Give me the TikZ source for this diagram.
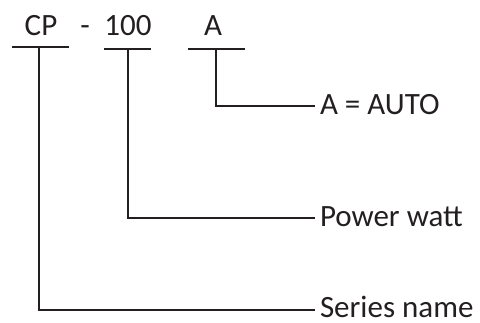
\documentclass[tikz,border=0pt]{standalone}
\usepackage{fontspec}
\setmainfont{Carlito}
\definecolor{ink}{HTML}{231F20}
\begin{document}
\begin{tikzpicture}[x=1pt,y=-1pt,
  lbl/.style={font=\fontsize{31}{36}\selectfont, text=ink, inner sep=0pt, outer sep=0pt},
  wire/.style={draw=ink, line width=2pt}]
\useasboundingbox (0,0) rectangle (480,322);
% top code letters
\node[lbl, anchor=base] (cp) at (41,35) {CP};
\node[lbl, anchor=base] (dash) at (85,35) {-};
\node[lbl, anchor=base] (hund) at (128,35) {100};
\node[lbl, anchor=base] (a) at (213,35) {A};
% underline coordinates
\coordinate (cpL) at (12,47);  \coordinate (cpR) at (69,47);  \coordinate (cpT) at (39,47);
\coordinate (hL) at (104,49);  \coordinate (hR) at (151,49);  \coordinate (hT) at (128,49);
\coordinate (aL) at (188,49);  \coordinate (aR) at (245,49);  \coordinate (aT) at (216,49);
% right labels
\node[lbl, anchor=base west] (auto) at (320,114) {A = AUTO};
\node[lbl, anchor=base west] (pw) at (320,226) {Power watt};
\node[lbl, anchor=base west] (sn) at (320,317) {Series name};
\coordinate (autoE) at (315,106);
\coordinate (pwE) at (315,218);
\coordinate (snE) at (315,310);
% underlines
\draw[wire] (cpL) -- (cpR);
\draw[wire] (hL) -- (hR);
\draw[wire] (aL) -- (aR);
% connectors
\draw[wire] (aT) |- (autoE);
\draw[wire] (hT) |- (pwE);
\draw[wire] (cpT) |- (snE);
\end{tikzpicture}
\end{document}
